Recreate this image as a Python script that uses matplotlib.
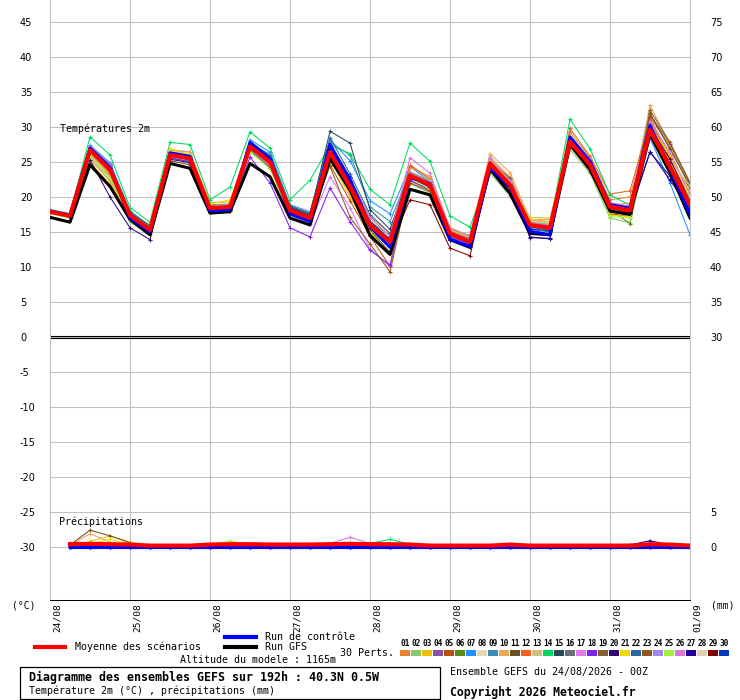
import matplotlib
matplotlib.use('Agg')
import matplotlib.pyplot as plt
from matplotlib.lines import Line2D
from matplotlib.patches import Rectangle
from matplotlib.transforms import ScaledTranslation
import numpy as np

# --- time axis: 6-hourly steps over 192 h ---
HOURS = np.arange(0, 193, 6)
DAY_TICKS = np.arange(0, 193, 24)
DAY_LABELS = ["24/08", "25/08", "26/08", "27/08", "28/08",
              "29/08", "30/08", "31/08", "01/09"]

MEMBER_COLORS = [
    "#E8822E", "#86C86A", "#F0C000", "#8B4FA8", "#B8500E", "#5A8A10",
    "#1E90FF", "#E8D8B0", "#3A8DB8", "#E8A858", "#6B5020", "#F06020",
    "#D0C080", "#00D860", "#284858", "#687078", "#E078F0", "#8020F0",
    "#806030", "#300870", "#F0D800", "#2868A0", "#905820", "#A088E8",
    "#A0F040", "#D878D8", "#2000A0", "#E0D0B0", "#800000", "#0038C0",
]

# --- 2 m temperature (degC) ---
MEAN_TEMP = [17.9, 17.3, 26.7, 23.9, 17.4, 15.3, 26.0, 25.5, 18.4, 18.6, 27.2,
             25.0, 18.1, 17.0, 26.4, 21.5, 16.0, 13.6, 23.1, 21.7, 14.8, 13.6,
             24.8, 21.7, 16.0, 15.6, 27.9, 24.6, 18.6, 18.1, 29.6, 24.3, 18.9]
CONTROL_TEMP = [18.0, 17.4, 27.0, 24.2, 17.0, 15.0, 26.3, 25.8, 18.0, 18.2, 27.8,
                25.5, 17.6, 16.5, 27.5, 22.5, 15.8, 12.8, 22.8, 21.9, 14.0, 12.9,
                24.2, 21.4, 15.1, 14.6, 28.6, 25.1, 18.9, 18.4, 30.2, 24.0, 17.5]
GFS_TEMP = [17.1, 16.4, 24.6, 21.5, 16.8, 14.6, 24.8, 24.1, 17.7, 17.9, 24.8,
            22.9, 17.0, 16.0, 25.5, 21.0, 14.5, 11.8, 21.1, 20.3, 13.9, 12.8,
            24.0, 20.5, 14.8, 14.6, 27.5, 24.0, 18.0, 17.5, 29.0, 23.5, 17.0]
MEMBER_TEMPS = [
    [18.1, 17.5, 26.2, 23.0, 17.8, 15.8, 26.5, 26.0, 18.9, 18.9, 27.6, 25.8, 18.8, 17.6, 26.8, 22.6, 17.2, 14.8, 24.6, 22.6, 15.6, 14.4, 25.4, 22.4, 16.4, 16.2, 29.3, 25.6, 19.6, 20.0, 31.2, 26.0, 20.4],
    [17.6, 17.0, 25.8, 22.2, 16.4, 14.6, 26.4, 25.2, 18.2, 18.0, 26.4, 24.3, 17.5, 16.6, 25.2, 20.5, 15.2, 12.9, 21.9, 20.6, 14.4, 13.2, 23.4, 20.2, 15.2, 14.8, 26.8, 23.4, 17.0, 16.3, 28.4, 23.2, 18.2],
    [17.8, 17.2, 25.0, 21.8, 17.6, 16.0, 26.9, 26.2, 19.2, 19.3, 26.5, 24.2, 18.3, 17.3, 25.5, 20.0, 15.4, 13.0, 23.3, 22.5, 15.2, 14.1, 25.2, 22.8, 16.6, 16.4, 27.4, 24.9, 18.8, 18.6, 29.2, 24.8, 20.4],
    [17.9, 17.4, 26.9, 24.4, 17.8, 15.4, 25.8, 25.4, 18.5, 18.9, 27.8, 25.6, 18.4, 17.0, 27.2, 22.0, 16.2, 13.1, 23.5, 21.9, 14.6, 13.5, 24.9, 21.2, 15.7, 15.3, 28.2, 24.9, 18.4, 18.0, 30.1, 24.4, 18.6],
    [18.0, 17.3, 27.2, 24.6, 17.2, 14.9, 26.2, 25.9, 18.6, 18.5, 26.9, 24.9, 17.9, 16.8, 24.6, 19.5, 14.4, 10.1, 22.3, 21.0, 14.2, 13.0, 24.6, 21.8, 16.0, 15.8, 27.7, 24.2, 17.6, 17.2, 31.5, 27.2, 21.4],
    [17.7, 17.1, 26.4, 23.7, 17.3, 15.5, 25.9, 25.3, 18.4, 18.5, 27.0, 24.6, 18.0, 17.2, 26.1, 21.3, 16.5, 14.5, 22.6, 21.5, 15.0, 14.0, 24.0, 21.0, 15.9, 15.6, 27.5, 24.4, 18.2, 16.2, 29.7, 25.0, 19.4],
    [18.2, 17.6, 27.4, 24.9, 18.0, 15.9, 26.6, 26.4, 18.9, 19.0, 28.2, 26.4, 18.9, 17.9, 28.2, 25.2, 19.5, 17.6, 24.3, 22.3, 15.4, 14.5, 25.4, 22.0, 16.2, 15.8, 28.4, 25.2, 18.9, 18.6, 28.4, 22.0, 14.6],
    [17.9, 17.3, 26.2, 23.4, 17.6, 15.2, 26.6, 26.3, 18.7, 18.6, 27.3, 25.3, 18.3, 17.2, 26.6, 21.7, 15.8, 13.4, 23.3, 21.8, 14.9, 13.8, 24.3, 21.5, 16.3, 16.2, 27.1, 24.1, 17.8, 17.4, 29.2, 23.8, 20.8],
    [18.0, 17.4, 27.1, 24.7, 17.9, 15.6, 25.9, 25.6, 18.1, 18.4, 27.6, 26.1, 18.6, 17.6, 27.8, 26.0, 18.6, 16.5, 23.5, 22.1, 15.3, 14.0, 25.0, 21.9, 15.5, 15.1, 27.9, 25.3, 18.6, 18.1, 29.4, 24.2, 19.3],
    [17.8, 17.2, 25.3, 22.4, 17.1, 15.0, 26.7, 26.5, 18.8, 18.9, 27.4, 24.8, 18.2, 17.0, 26.0, 21.8, 16.1, 13.7, 24.2, 23.0, 15.6, 14.4, 26.2, 23.5, 16.8, 16.5, 27.8, 24.0, 18.7, 19.2, 33.1, 27.5, 21.2],
    [17.9, 17.2, 26.6, 23.1, 17.2, 15.1, 25.2, 24.6, 17.9, 18.0, 26.8, 24.2, 17.7, 16.6, 26.3, 21.8, 15.3, 12.1, 22.8, 21.3, 14.7, 13.3, 25.2, 22.1, 15.8, 15.3, 27.3, 23.6, 18.0, 17.6, 32.0, 26.8, 21.7],
    [18.1, 17.5, 26.7, 24.1, 17.6, 15.5, 26.1, 25.6, 18.3, 18.5, 27.3, 25.1, 18.0, 16.9, 26.9, 22.2, 16.4, 13.8, 24.5, 22.6, 15.1, 13.9, 24.7, 21.6, 16.2, 15.9, 29.8, 25.8, 20.4, 20.9, 31.0, 25.4, 19.8],
    [17.7, 17.1, 25.7, 22.7, 17.0, 14.9, 26.5, 25.8, 18.6, 18.7, 27.5, 25.2, 18.3, 17.1, 25.8, 21.0, 16.0, 13.9, 22.2, 20.9, 14.6, 13.6, 25.8, 22.9, 17.1, 17.0, 27.2, 24.3, 18.9, 18.5, 30.5, 25.3, 19.6],
    [18.2, 17.6, 28.6, 26.0, 18.5, 16.4, 27.8, 27.5, 19.6, 21.4, 29.3, 27.0, 19.6, 22.4, 27.4, 26.2, 21.1, 18.9, 27.7, 25.1, 17.3, 15.7, 23.8, 21.2, 16.3, 16.1, 31.1, 26.9, 20.3, 18.8, 29.1, 24.6, 18.4],
    [18.1, 17.5, 27.0, 24.3, 17.7, 15.4, 26.3, 25.9, 18.4, 18.6, 27.4, 25.4, 18.6, 17.5, 29.4, 27.7, 18.2, 15.4, 23.6, 22.2, 14.9, 13.4, 24.6, 21.4, 15.9, 15.4, 27.6, 24.6, 18.6, 18.0, 30.4, 25.6, 21.2],
    [17.8, 17.2, 26.1, 23.5, 17.4, 15.1, 25.6, 25.1, 18.1, 18.3, 26.6, 24.5, 17.8, 16.7, 26.2, 21.4, 16.2, 13.9, 22.9, 21.6, 14.5, 13.5, 24.4, 21.3, 15.8, 15.2, 27.6, 24.1, 18.3, 17.8, 28.9, 24.1, 19.2],
    [17.9, 17.3, 26.3, 23.3, 17.3, 15.4, 26.2, 25.7, 18.5, 18.6, 26.9, 24.4, 17.4, 16.2, 22.9, 18.5, 12.6, 10.0, 23.0, 21.2, 14.2, 13.6, 25.5, 22.6, 16.7, 16.8, 28.1, 24.5, 18.4, 17.9, 29.0, 26.0, 18.3],
    [17.9, 17.4, 26.6, 23.8, 17.5, 15.2, 25.6, 25.0, 18.1, 18.3, 25.7, 22.0, 15.6, 14.3, 21.3, 16.5, 12.4, 10.3, 22.4, 21.0, 14.4, 13.2, 24.1, 21.0, 15.6, 15.6, 27.3, 24.2, 18.5, 18.2, 29.5, 24.6, 18.7],
    [18.0, 17.3, 26.9, 23.6, 17.8, 15.9, 26.4, 25.7, 18.8, 18.4, 26.8, 25.4, 18.7, 17.4, 25.9, 20.8, 14.9, 12.0, 23.2, 21.8, 14.9, 14.0, 25.1, 22.7, 15.8, 15.4, 27.5, 24.8, 18.8, 18.3, 31.8, 27.6, 21.9],
    [17.8, 17.1, 25.3, 20.0, 15.6, 13.9, 25.4, 24.9, 18.0, 18.2, 27.0, 25.3, 18.5, 17.3, 27.0, 22.3, 16.1, 13.3, 22.9, 21.4, 13.9, 13.0, 24.5, 21.5, 14.3, 14.0, 27.9, 24.9, 18.0, 17.7, 26.4, 23.0, 17.3],
    [17.9, 17.4, 26.0, 23.2, 17.5, 15.7, 26.8, 26.0, 19.0, 19.6, 27.0, 24.7, 18.4, 17.0, 25.4, 20.4, 15.0, 11.8, 23.6, 22.4, 15.3, 14.2, 25.3, 22.2, 16.8, 16.9, 28.6, 24.4, 17.4, 17.2, 30.2, 25.8, 20.9],
    [18.0, 17.4, 27.0, 24.5, 17.9, 15.7, 26.2, 25.6, 18.2, 18.3, 27.9, 25.9, 18.7, 17.7, 28.5, 23.3, 17.5, 14.8, 23.1, 21.6, 14.8, 13.7, 24.3, 20.9, 15.4, 15.0, 28.0, 24.9, 18.9, 18.4, 29.8, 23.6, 18.0],
    [17.8, 17.2, 26.5, 23.6, 17.3, 15.3, 26.0, 25.5, 18.4, 18.5, 26.9, 24.8, 17.9, 16.9, 24.4, 17.1, 13.3, 9.3, 22.0, 20.8, 14.4, 13.5, 24.8, 21.8, 16.1, 15.8, 27.5, 24.5, 18.1, 17.8, 32.4, 27.8, 22.1],
    [18.0, 17.4, 27.3, 24.7, 17.6, 15.3, 26.4, 25.9, 18.5, 18.4, 27.5, 25.2, 18.3, 17.2, 26.7, 21.6, 16.2, 13.6, 23.6, 22.3, 15.1, 13.9, 24.9, 21.9, 16.0, 15.9, 27.9, 25.0, 18.6, 18.2, 29.3, 24.4, 18.8],
    [17.7, 17.1, 25.9, 22.8, 17.1, 15.0, 25.8, 25.3, 18.2, 18.4, 26.5, 24.0, 17.6, 16.5, 25.9, 21.1, 16.1, 13.7, 22.7, 21.1, 14.6, 13.5, 24.4, 21.3, 15.9, 15.6, 27.3, 23.9, 17.2, 17.0, 28.7, 24.9, 19.8],
    [17.9, 17.3, 26.8, 24.0, 17.4, 15.2, 26.0, 25.4, 18.3, 18.6, 27.1, 24.9, 18.1, 17.1, 26.5, 22.6, 17.0, 14.4, 25.6, 23.4, 15.5, 14.3, 25.6, 22.3, 16.3, 16.0, 28.3, 25.4, 19.2, 18.7, 30.8, 26.4, 20.4],
    [18.0, 17.4, 26.8, 24.2, 17.5, 15.1, 26.2, 25.5, 18.2, 18.4, 27.2, 25.1, 18.1, 16.8, 26.8, 22.0, 15.9, 13.2, 22.8, 21.5, 13.8, 12.9, 24.8, 21.6, 14.2, 14.1, 28.2, 24.7, 18.5, 17.9, 26.5, 22.4, 18.3],
    [17.9, 17.3, 26.4, 23.6, 17.5, 15.4, 26.3, 25.8, 18.6, 18.8, 27.4, 25.0, 18.2, 17.1, 26.1, 21.2, 15.7, 13.2, 23.4, 22.0, 15.0, 13.8, 24.7, 21.6, 16.1, 15.8, 27.8, 24.5, 18.6, 18.2, 29.7, 25.1, 21.6],
    [17.8, 17.2, 26.5, 23.9, 17.5, 15.5, 26.1, 25.3, 18.2, 18.6, 27.0, 24.8, 18.0, 17.0, 25.8, 21.4, 15.6, 12.9, 19.6, 18.9, 12.7, 11.6, 23.9, 21.2, 16.1, 15.6, 27.7, 24.3, 18.4, 17.9, 29.9, 25.4, 19.4],
    [18.1, 17.5, 26.9, 24.2, 17.3, 15.2, 26.1, 25.6, 18.4, 18.6, 27.5, 25.5, 18.4, 17.2, 27.4, 22.8, 16.5, 14.0, 23.3, 21.8, 14.6, 13.4, 24.5, 21.7, 15.4, 15.2, 28.5, 25.2, 18.7, 18.3, 30.1, 24.8, 17.8],
]

# --- 6 h precipitation (mm), steps 1..32 ---
MEAN_PRECIP = [0.4, 0.45, 0.4, 0.35, 0.2, 0.2, 0.2, 0.35, 0.4, 0.4, 0.35, 0.35,
               0.35, 0.4, 0.45, 0.4, 0.4, 0.35, 0.2, 0.2, 0.2, 0.2, 0.35, 0.2,
               0.2, 0.2, 0.2, 0.2, 0.2, 0.4, 0.35, 0.2]
CONTROL_PRECIP = [0.0] * 32
GFS_PRECIP = [0.0] * 32
# (member number, step, mm) - every other member value is 0
RAIN_EVENTS = [
    (11, 1, 0.3), (11, 2, 2.4), (11, 3, 1.6), (11, 4, 0.6),
    (10, 1, 0.2), (10, 2, 1.9), (10, 3, 0.7), (10, 4, 0.3),
    (3, 2, 0.8), (3, 3, 1.6), (3, 4, 0.7), (3, 5, 0.1),
    (21, 2, 0.5), (21, 3, 1.1), (21, 4, 0.4),
    (15, 1, 0.6), (15, 2, 0.3), (17, 2, 0.4), (17, 3, 0.3), (9, 1, 0.3),
    (25, 8, 0.3), (25, 9, 0.9), (25, 10, 0.2), (18, 9, 0.3),
    (26, 14, 0.5), (26, 15, 1.4), (26, 16, 0.5), (6, 14, 0.2), (6, 15, 0.6),
    (14, 16, 0.5), (14, 17, 1.1), (14, 18, 0.4), (4, 16, 0.4), (4, 17, 0.3),
    (27, 29, 0.3), (27, 30, 0.9), (27, 31, 0.3), (30, 30, 0.4), (30, 31, 0.3),
]

PRECIP_BASE = -30  # precipitation drawn with 0 mm at -30 on the temperature scale
W, H = 740, 700
MONO = "DejaVu Sans Mono"


def fx(px):
    return px / W


def fy(py):
    return 1 - py / H


def main():
    fig = plt.figure(figsize=(W / 100, H / 100), dpi=100)
    ax = fig.add_axes([fx(50), fy(600), 640 / W, 600 / H])
    ymin, ymax = (337 - 600) / 7, 337 / 7
    ax.set_xlim(0, 192)
    ax.set_ylim(ymin, ymax)

    # grid + frame
    ax.set_yticks(np.arange(-30, 50, 5))
    ax.set_xticks(DAY_TICKS)
    ax.grid(True, color='#C0C0C0', linewidth=0.75)
    ax.set_axisbelow(True)
    ax.spines['top'].set_visible(False)
    ax.spines['left'].set_color('#C0C0C0')
    ax.spines['right'].set_color('#C0C0C0')
    ax.spines['bottom'].set_color('black')
    for s in ax.spines.values():
        s.set_linewidth(0.75)

    # left labels (degC), left-aligned at x=20 px
    ax.set_yticklabels([str(v) for v in np.arange(-30, 50, 5)])
    ax.tick_params(axis='y', length=0, pad=21.6, labelsize=7)
    for lab in ax.get_yticklabels():
        lab.set_horizontalalignment('left')

    # date labels, rotated
    ax.set_xticklabels(DAY_LABELS, rotation=90, family=MONO, fontsize=6.8,
                       ha='left', va='top')
    ax.tick_params(axis='x', length=0, pad=2)
    shift = ScaledTranslation(0.03, 0, fig.dpi_scale_trans)
    for lab in ax.get_xticklabels():
        lab.set_transform(lab.get_transform() + shift)

    # right axis (= left + 30, precip 0/5 mm)
    ax2 = ax.twinx()
    ax2.set_ylim(ymin + 30, ymax + 30)
    ax2.set_yticks([0, 5] + list(range(30, 80, 5)))
    ax2.tick_params(axis='y', length=0, pad=14.4, labelsize=7)
    for s in ax2.spines.values():
        s.set_visible(False)

    # zero line (double)
    ax.axhline(0.14, color='black', linewidth=0.8, zorder=1.5)
    ax.axhline(-0.14, color='black', linewidth=0.8, zorder=1.5)

    # member precipitation
    member_precip = [[0.0] * 32 for _ in MEMBER_COLORS]
    for m, step, mm in RAIN_EVENTS:
        member_precip[m - 1][step - 1] = mm
    p_hours = HOURS[1:]

    for temps, rain, color in zip(MEMBER_TEMPS, member_precip, MEMBER_COLORS):
        ax.plot(HOURS, temps, color=color, linewidth=0.75, marker='+',
                markersize=3.5, markeredgewidth=0.75, zorder=2)
        ax.plot(p_hours, PRECIP_BASE + np.array(rain), color=color,
                linewidth=0.75, marker='+', markersize=3.5,
                markeredgewidth=0.75, zorder=2)

    ax.plot(HOURS, GFS_TEMP, color='black', linewidth=2.2, zorder=3)
    ax.plot(p_hours, PRECIP_BASE + np.array(GFS_PRECIP), color='black',
            linewidth=2.2, zorder=3)
    ax.plot(HOURS, CONTROL_TEMP, color='#0000FF', linewidth=2.2, zorder=3.1)
    ax.plot(p_hours, PRECIP_BASE + np.array(CONTROL_PRECIP), color='#0000FF',
            linewidth=2.2, zorder=3.1)
    ax.plot(HOURS, MEAN_TEMP, color='#FF0000', linewidth=3.0, zorder=4)
    ax.plot(p_hours, PRECIP_BASE + np.array(MEAN_PRECIP), color='#FF0000',
            linewidth=3.0, zorder=4)

    ax.text(3, 29.7, "Températures 2m", family=MONO, fontsize=7.2,
            va='center', ha='left')
    ax.text(2.7, -26.4, "Précipitations", family=MONO, fontsize=7.2,
            va='center', ha='left')

    # --- outside labels and legend (figure pixel coords) ---
    def ftext(px, py, s, **kw):
        kw.setdefault('family', MONO)
        kw.setdefault('fontsize', 7.2)
        kw.setdefault('va', 'center')
        fig.text(fx(px), fy(py), s, **kw)

    ftext(24, 606, "(°C)", ha='center', fontsize=7)
    ftext(711, 606, "(mm)", ha='left', fontsize=7)

    fig.add_artist(Line2D([fx(35), fx(65)], [fy(647), fy(647)],
                          transform=fig.transFigure, color='#FF0000', linewidth=3))
    ftext(75, 647, "Moyenne des scénarios")
    fig.add_artist(Line2D([fx(225), fx(256)], [fy(637), fy(637)],
                          transform=fig.transFigure, color='#0000FF', linewidth=3))
    ftext(265, 637, "Run de contrôle")
    fig.add_artist(Line2D([fx(225), fx(256)], [fy(647), fy(647)],
                          transform=fig.transFigure, color='black', linewidth=3))
    ftext(265, 647, "Run GFS")
    ftext(340, 653, "30 Perts.")
    ftext(180, 660, "Altitude du modele : 1165m")

    for k, color in enumerate(MEMBER_COLORS):
        x0 = 400 + 11 * k
        fig.add_artist(Rectangle((fx(x0), fy(656)), 10 / W, 6 / H,
                                 transform=fig.transFigure, facecolor=color,
                                 edgecolor='none'))
        ftext(x0 + 5, 644, f"{k + 1:02d}", ha='center', fontsize=5.6,
              fontweight='bold')

    fig.add_artist(Rectangle((fx(20), fy(699)), 420 / W, 32 / H,
                             transform=fig.transFigure, fill=False,
                             edgecolor='black', linewidth=0.9))
    ftext(29, 677, "Diagramme des ensembles GEFS sur 192h : 40.3N 0.5W",
          fontsize=8.4, fontweight='bold')
    ftext(29, 691, "Température 2m (°C) , précipitations (mm)")
    ftext(450, 672, "Ensemble GEFS du 24/08/2026 - 00Z")
    ftext(450, 692, "Copyright 2026 Meteociel.fr", fontsize=8.3,
          fontweight='bold')

    fig.savefig("out.png", dpi=100)
    plt.close(fig)


if __name__ == "__main__":
    main()
